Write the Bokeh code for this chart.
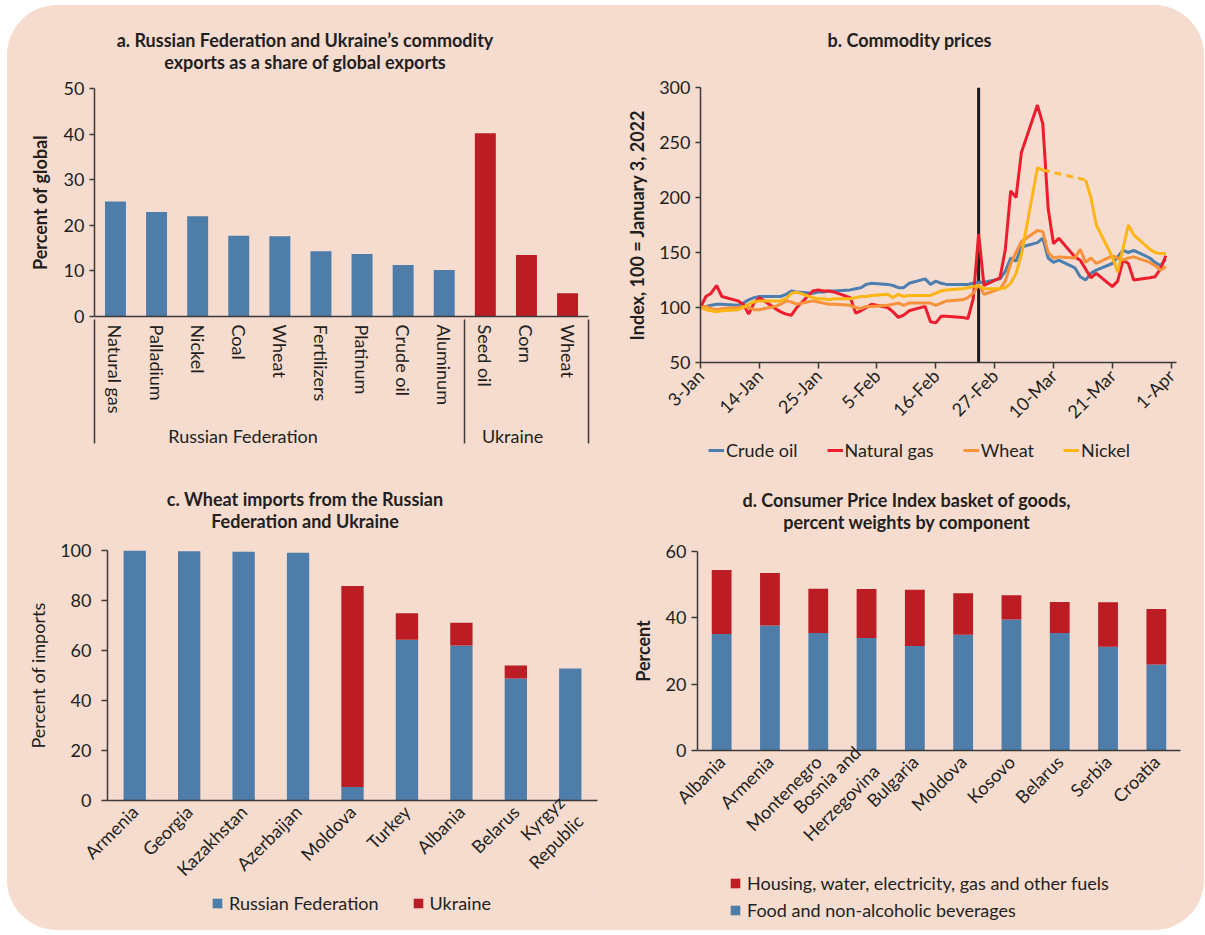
import math
import numpy as np
import pandas as pd
from bokeh.plotting import figure
from bokeh.models import (FactorRange, Range1d, FixedTicker, Legend, LegendItem, Span,
                          ColumnDataSource, Div)
from bokeh.layouts import row, column
from bokeh.embed import file_html
from bokeh.resources import INLINE

FONT = "Lato"
TXT = "#231F20"
AXC = "#3A3A3A"
BLUE = "#4E7DA9"
RED = "#BC1C24"
PINK = "#F5DCCF"
C_OIL = "#4C7FB0"
C_GAS = "#EE1D2D"
C_WHEAT = "#F7913A"
C_NICKEL = "#FDB515"

# ---------------- panel a data ----------------
a_title = ["a. Russian Federation and Ukraine\u2019s commodity",
           "exports as a share of global exports"]
a_groups = ["Russian Federation"] * 9 + ["Ukraine"] * 3
a_items = ["Natural gas", "Palladium", "Nickel", "Coal", "Wheat", "Fertilizers",
           "Platinum", "Crude oil", "Aluminum", "Seed oil", "Corn", "Wheat"]
a_share = [25.2, 22.9, 22.0, 17.7, 17.6, 14.3, 13.7, 11.3, 10.2, 40.2, 13.5, 5.1]
a_yticks = [0, 10, 20, 30, 40, 50]

# ---------------- panel b data ----------------
b_title = ["b. Commodity prices"]
b_first, b_last = "2022-01-03", "2022-03-31"
b_invasion = "2022-02-24"
crude_oil = [100, 101, 102, 103, 103,
             102, 104, 107, 109, 110,
             110, 110, 112, 115, 114,
             113, 114, 114, 115, 115,
             116, 117, 118, 121, 122,
             121, 120, 118, 118, 122,
             126, 121, 124, 122, 121,
             121, 121, 122, 123, 123,
             126, 133, 145, 142, 155,
             159, 163, 145, 141, 143,
             136, 128, 125, 131, 134,
             140, 146, 152, 150, 152,
             145, 141, 138, 144]
natural_gas = [100, 110, 113, 120, 110,
               106, 103, 94, 104, 109,
               99, 96, 94, 93, 100,
               115, 116, 115, 115, 114,
               109, 95, 97, 100, 103,
               100, 96, 91, 93, 97,
               101, 87, 86, 92, 92,
               91, 90, 108, 167, 120,
               127, 153, 206, 200, 241,
               284, 267, 190, 158, 163,
               146, 143, 135, 127, 131,
               119, 124, 143, 140, 125,
               127, 128, 135, 147]
wheat = [100, 101, 99, 98, 99,
         100, 101, 100, 98, 98,
         101, 103, 106, 105, 103,
         106, 105, 104, 103, 103,
         102, 100, 99, 101, 101,
         102, 103, 104, 102, 104,
         104, 104, 102, 104, 106,
         107, 109, 113, 121, 112,
         117, 124, 140, 150, 160,
         170, 169, 150, 145, 146,
         145, 153, 141, 145, 140,
         147, 145, 143, 145, 146,
         141, 138, 134, 137]
nickel = [100, 98, 97, 96, 97,
          98, 100, 103, 105, 106,
          106, 106, 108, 113, 114,
          109, 108, 108, 107, 108,
          108, 109, 110, 110, 111,
          112, 109, 112, 110, 111,
          111, 111, 113, 115, 116,
          117, 118, 119, 120, 117,
          117, 118, 122, 131, 148,
          227, 225, None, None, None,
          None, None, 216, 200, 175,
          146, 132, 154, 175, 166,
          153, 150, 149, 149]
nickel_suspension = ("2022-03-08", "2022-03-16")   # LME trading halt: dashed link
b_series = ["Crude oil", "Natural gas", "Wheat", "Nickel"]
b_colors = [C_OIL, C_GAS, C_WHEAT, C_NICKEL]
b_tick_dates = ["2022-01-03", "2022-01-14", "2022-01-25", "2022-02-05", "2022-02-16",
                "2022-02-27", "2022-03-10", "2022-03-21", "2022-04-01"]
b_tick_labels = ["3-Jan", "14-Jan", "25-Jan", "5-Feb", "16-Feb",
                 "27-Feb", "10-Mar", "21-Mar", "1-Apr"]
b_yticks = [50, 100, 150, 200, 250, 300]

# ---------------- panel c data ----------------
c_title = ["c. Wheat imports from the Russian", "Federation and Ukraine"]
c_countries = ["Armenia", "Georgia", "Kazakhstan", "Azerbaijan", "Moldova",
               "Turkey", "Albania", "Belarus", "Kyrgyz\nRepublic"]
c_russia = [100.0, 99.7, 99.5, 99.1, 5.4, 64.3, 62.0, 48.8, 52.8]
c_ukraine = [0.0, 0.0, 0.0, 0.0, 80.4, 10.6, 9.1, 5.2, 0.0]
c_series = ["Russian Federation", "Ukraine"]
c_yticks = [0, 20, 40, 60, 80, 100]

# ---------------- panel d data ----------------
d_title = ["d. Consumer Price Index basket of goods,", "percent weights by component"]
d_countries = ["Albania", "Armenia", "Montenegro", "Bosnia and\nHerzegovina", "Bulgaria",
               "Moldova", "Kosovo", "Belarus", "Serbia", "Croatia"]
d_food = [35.1, 37.7, 35.4, 33.9, 31.5, 34.9, 39.5, 35.4, 31.3, 25.9]
d_housing = [19.3, 15.8, 13.4, 14.8, 17.0, 12.5, 7.3, 9.4, 13.4, 16.8]
d_series = ["Food and non-alcoholic beverages",
            "Housing, water, electricity, gas and other fuels"]
d_yticks = [0, 20, 40, 60]


# ---------------- helpers ----------------
def base_fig(W, H, L, R, T, B, **kw):
    p = figure(width=W, height=H, min_border_left=L, min_border_right=W - R,
               min_border_top=T, min_border_bottom=H - B,
               toolbar_location=None, tools="", output_backend="svg", **kw)
    p.background_fill_alpha = 0
    p.border_fill_alpha = 0
    p.outline_line_color = None
    p.grid.visible = False
    return p


def style_axis(ax, bold=True):
    ax.axis_line_color = AXC
    ax.axis_line_width = 1.5
    ax.major_tick_line_color = AXC
    ax.major_tick_line_width = 1.5
    ax.major_tick_in = 0
    ax.minor_tick_line_color = None
    ax.major_label_text_font = FONT
    ax.major_label_text_font_size = "18px"
    ax.major_label_text_color = TXT
    ax.axis_label_text_font = FONT
    ax.axis_label_text_font_size = "18px"
    ax.axis_label_text_color = TXT
    ax.axis_label_text_font_style = "bold" if bold else "normal"


def title_div(lines, width, height, pad_top, pad_left):
    html = ('<div style="box-sizing:border-box;width:%dpx;font-family:%s;font-weight:bold;'
            'font-size:18px;line-height:21.6px;color:%s;text-align:center;'
            'padding-top:%dpx;padding-left:%dpx;">%s</div>'
            % (width, FONT, TXT, pad_top, pad_left, "<br>".join(lines)))
    return Div(text=html, width=width, height=height, margin=0)


def legend_fig(W, H, labels, colors, kind, orientation, vx, vy, **kw):
    """Figure below a panel that only carries that panel's legend.
    Its frame is aligned (by the column) with the panel's frame; the key
    renderers sit outside the visible 0..1 range so only the legend shows."""
    lf = figure(width=W, height=H, x_range=Range1d(0, 1), y_range=Range1d(0, 1),
                x_axis_location=None, y_axis_location=None, min_border=0,
                toolbar_location=None, tools="", output_backend="svg")
    lf.background_fill_alpha = 0
    lf.border_fill_alpha = 0
    lf.outline_line_color = None
    lf.grid.visible = False
    items = []
    for lab, c in zip(labels, colors):
        if kind == "line":
            r = lf.line(x=[5, 6], y=[5, 5], line_color=c, line_width=3)
        else:
            r = lf.vbar(x=[5], top=[6], bottom=[5], width=1, color=c, line_color=None)
        items.append(LegendItem(label=lab, renderers=[r]))
    lg = Legend(items=items, orientation=orientation, location=(vx, vy))
    lg.label_text_font = FONT
    lg.label_text_font_size = "18px"
    lg.label_text_color = TXT
    lg.border_line_color = None
    lg.background_fill_alpha = 0
    lg.padding = 0
    lg.margin = 0
    lg.label_height = 22
    for k, v in kw.items():
        setattr(lg, k, v)
    lf.add_layout(lg)
    return lf


# ================= panel a =================
W, H, L, R, T, B = 593, 397, 87, 581, 15, 243
group_pad = {"Russian Federation": "\u00a0" * 16, "Ukraine": "\u00a0" * 6}
real_factors = [(g + group_pad[g], it) for g, it in zip(a_groups, a_items)]
edge_l, edge_r = (" ", " "), ("  ", "  ")      # empty outer groups -> edge separators
a_colors = [BLUE if g == a_groups[0] else RED for g in a_groups]
pa = base_fig(W, H, L, R, T, B,
              x_range=FactorRange(*([edge_l] + real_factors + [edge_r]), group_padding=0,
                                  factor_padding=0, range_padding=-0.99,
                                  range_padding_units="absolute"),
              y_range=Range1d(0, 50))
pa.vbar(x="x", top="top", width=0.51, color="color", line_color=None,
        source=ColumnDataSource(dict(x=real_factors, top=a_share, color=a_colors)))
xa = pa.xaxis[0]
style_axis(xa)
xa.major_tick_line_color = None
xa.major_tick_out = 0
xa.major_label_orientation = "vertical"
xa.major_label_standoff = 8
xa.group_text_font = FONT
xa.group_text_font_size = "18px"
xa.group_text_font_style = "normal"
xa.group_text_color = TXT
xa.separator_line_color = AXC
xa.separator_line_width = 1.5
ya = pa.yaxis[0]
style_axis(ya)
ya.ticker = FixedTicker(ticks=a_yticks)
ya.major_tick_out = 5
ya.major_label_standoff = 5
ya.axis_label = "Percent of global"
ya.axis_label_standoff = 10
col_a = column(title_div(a_title, 593, 68, 25, 3), pa)

# ================= panel b =================
W, H, L, R, T, B = 604, 360, 100, 576, 14, 296
dates = pd.bdate_range(b_first, b_last)
to_ms = lambda d: pd.Timestamp(d).value / 1e6
pb = base_fig(W, H, L, R, T, B, x_axis_type="datetime",
              x_range=Range1d(to_ms("2022-01-03"), to_ms("2022-04-02")),
              y_range=Range1d(50, 300))
pb.add_layout(Span(location=to_ms(b_invasion), dimension="height", line_color="#1E1A1B",
                   line_width=3, level="underlay"))
src_b = ColumnDataSource(dict(
    date=dates,
    oil=np.array(crude_oil, dtype=float),
    gas=np.array(natural_gas, dtype=float),
    wheat=np.array(wheat, dtype=float),
    nickel=np.array([np.nan if v is None else v for v in nickel], dtype=float)))
for col, colr in zip(["oil", "gas", "wheat", "nickel"], b_colors):
    pb.line("date", col, source=src_b, line_color=colr, line_width=3)
i0 = list(dates).index(pd.Timestamp(nickel_suspension[0]))
i1 = list(dates).index(pd.Timestamp(nickel_suspension[1]))
pb.line([dates[i0], dates[i1]], [nickel[i0], nickel[i1]], line_color=C_NICKEL,
        line_width=3, line_dash="7 5")
xb = pb.xaxis[0]
style_axis(xb)
tick_ms = [to_ms(d) for d in b_tick_dates]
xb.ticker = FixedTicker(ticks=tick_ms)
xb.major_label_overrides = {t: lab for t, lab in zip(tick_ms, b_tick_labels)}
xb.major_label_orientation = math.pi / 4
xb.major_tick_out = 6
xb.major_label_standoff = 4
yb = pb.yaxis[0]
style_axis(yb)
yb.ticker = FixedTicker(ticks=b_yticks)
yb.major_tick_out = 5
yb.major_label_standoff = 5
yb.axis_label = "Index, 100 = January 3, 2022"
yb.axis_label_standoff = 8
lb = legend_fig(604, 37, b_series, b_colors, "line", "horizontal", 8, 9,
                glyph_width=16, glyph_height=22, label_standoff=2, spacing=29)
col_b = column(title_div(b_title, 604, 68, 25, 15), pb, lb)

# ================= panel c =================
W, H, L, R, T, B = 593, 357, 100, 590, 14, 269
pc = base_fig(W, H, L, R, T, B, x_range=FactorRange(*c_countries), y_range=Range1d(0, 100))
src_c = ColumnDataSource(dict(country=c_countries, russia=c_russia, ukraine=c_ukraine))
pc.vbar_stack(["russia", "ukraine"], x="country", width=0.41, color=[BLUE, RED],
              line_color=None, source=src_c)
xc = pc.xaxis[0]
style_axis(xc)
xc.major_tick_line_color = None
xc.major_tick_out = 0
xc.major_label_orientation = math.pi / 4
xc.major_label_standoff = 8
yc = pc.yaxis[0]
style_axis(yc, bold=False)
yc.ticker = FixedTicker(ticks=c_yticks)
yc.major_tick_out = 6
yc.major_label_standoff = 10
yc.axis_label = "Percent of imports"
yc.axis_label_standoff = 8
lc = legend_fig(593, 37, c_series, [BLUE, RED], "bar", "horizontal", 104, 16,
                glyph_width=12, glyph_height=12, label_standoff=6, spacing=33)
col_c = column(title_div(c_title, 593, 66, 19, 3), pc, lc)

# ================= panel d =================
W, H, L, R, T, B = 604, 329, 97, 580, 15, 221
pd_ = base_fig(W, H, L, R, T, B, x_range=FactorRange(*d_countries), y_range=Range1d(0, 60))
src_d = ColumnDataSource(dict(country=d_countries, food=d_food, housing=d_housing))
pd_.vbar_stack(["food", "housing"], x="country", width=0.41, color=[BLUE, RED],
               line_color=None, source=src_d)
xd = pd_.xaxis[0]
style_axis(xd)
xd.major_tick_line_color = None
xd.major_tick_out = 0
xd.major_label_orientation = math.pi / 4
xd.major_label_standoff = 8
yd = pd_.yaxis[0]
style_axis(yd)
yd.ticker = FixedTicker(ticks=d_yticks)
yd.major_tick_out = 6
yd.major_label_standoff = 5
yd.axis_label = "Percent"
yd.axis_label_standoff = 9
ld = legend_fig(604, 65, d_series[::-1], [RED, BLUE], "bar", "vertical", 32, 9,
                glyph_width=12, glyph_height=12, label_standoff=6, spacing=5)
col_d = column(title_div(d_title, 604, 66, 20, 9), pd_, ld)

layout = column(row(col_a, col_b), row(col_c, col_d),
                styles={"background-color": PINK, "border-radius": "50px",
                        "margin-left": "7px", "margin-top": "5px"})

open("out.html", "w").write(file_html(layout, INLINE))
